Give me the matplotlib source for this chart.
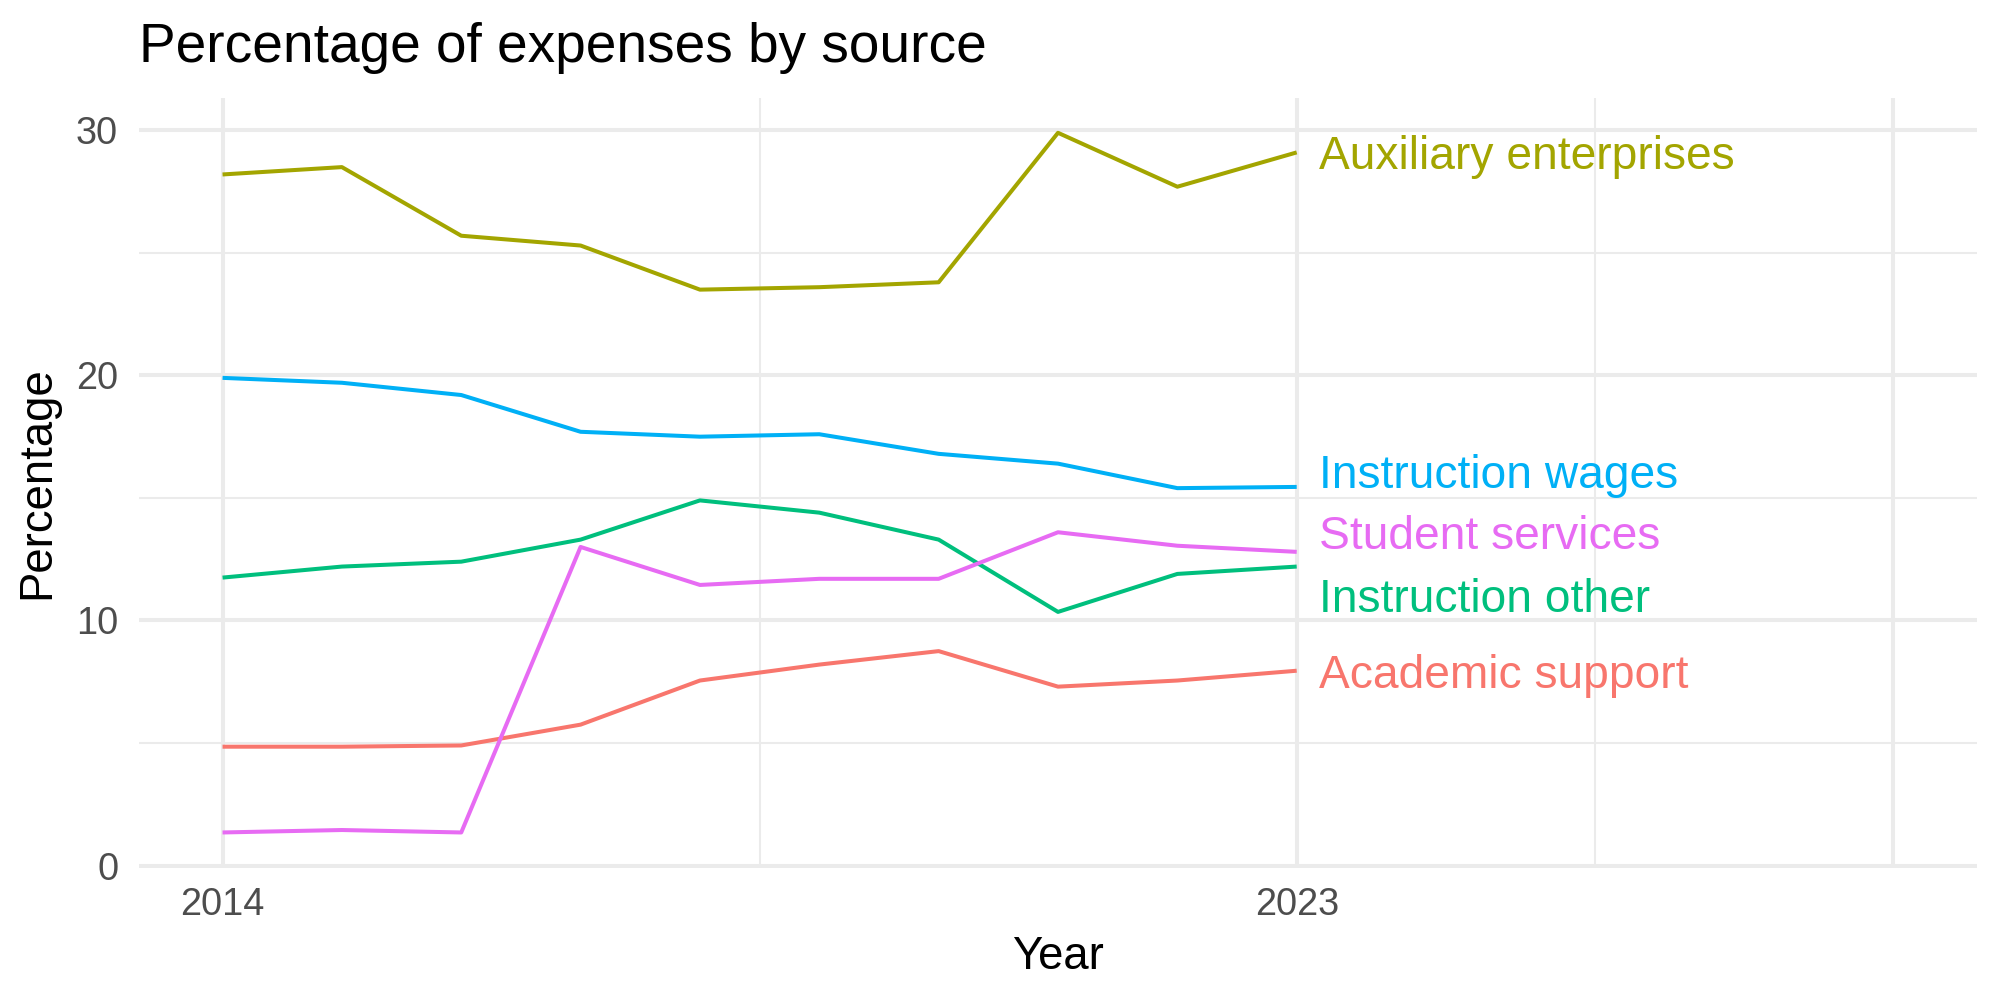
import matplotlib.pyplot as plt
from matplotlib.ticker import FixedLocator

plt.rcParams['font.family'] = ['Liberation Sans', 'DejaVu Sans']

years = [2014, 2015, 2016, 2017, 2018, 2019, 2020, 2021, 2022, 2023]

academic_support = [4.85, 4.85, 4.9, 5.75, 7.55, 8.2, 8.75, 7.3, 7.55, 7.95]
auxiliary = [28.2, 28.5, 25.7, 25.3, 23.5, 23.6, 23.8, 29.9, 27.7, 29.1]
instruction_other = [11.75, 12.2, 12.4, 13.3, 14.9, 14.4, 13.3, 10.35, 11.9, 12.2]
instruction_wages = [19.9, 19.7, 19.2, 17.7, 17.5, 17.6, 16.8, 16.4, 15.4, 15.45]
student_services = [1.35, 1.45, 1.35, 13.0, 11.45, 11.7, 11.7, 13.6, 13.05, 12.8]

names = ["Academic support", "Auxiliary enterprises", "Instruction other",
         "Instruction wages", "Student services"]
series = [academic_support, auxiliary, instruction_other, instruction_wages, student_services]
colors = ["#F8766D", "#A3A500", "#00BF7D", "#00B0F6", "#E76BF3"]

# label heights after repelling (so they don't overlap)
label_y = [7.75, 28.92, 10.85, 15.91, 13.42]

fig = plt.figure(figsize=(10, 5), dpi=200)
# panel: x 139..1977 px, y 98..868 px
ax = fig.add_axes([0.0695, 0.132, 0.919, 0.770])

for vals, c in zip(series, colors):
    ax.plot(years, vals, color=c, linewidth=1.45, solid_capstyle='butt', zorder=3)

for name, ly, c in zip(names, label_y, colors):
    ax.text(years[-1] + 0.19, ly, name, color=c, fontsize=16.6,
            ha='left', va='center', zorder=4)

ax.set_xlim(2013.3, 2028.7)
ax.set_ylim(-0.1, 31.32)

ax.xaxis.set_major_locator(FixedLocator([2014, 2023, 2028]))
ax.set_xticklabels(["2014", "2023", ""])
ax.xaxis.set_minor_locator(FixedLocator([2018.5, 2025.5]))
ax.yaxis.set_major_locator(FixedLocator([0, 10, 20, 30]))
ax.yaxis.set_minor_locator(FixedLocator([5, 15, 25]))

ax.grid(which='major', color='#EBEBEB', linewidth=1.45, zorder=0)
ax.grid(which='minor', color='#EBEBEB', linewidth=0.75, zorder=0)
ax.set_axisbelow(True)
for s in ax.spines.values():
    s.set_visible(False)
ax.tick_params(which='both', length=0, labelsize=13.7, labelcolor='#4D4D4D')
ax.tick_params(axis='y', pad=7.5)
ax.tick_params(axis='x', pad=7)

ax.set_xlabel("Year", fontsize=16.4, labelpad=4)
ax.set_ylabel("Percentage", fontsize=16.4, labelpad=6)
ax.set_title("Percentage of expenses by source", fontsize=19.8, loc='left', pad=13)

fig.savefig("out.png", dpi=200, facecolor='white')
